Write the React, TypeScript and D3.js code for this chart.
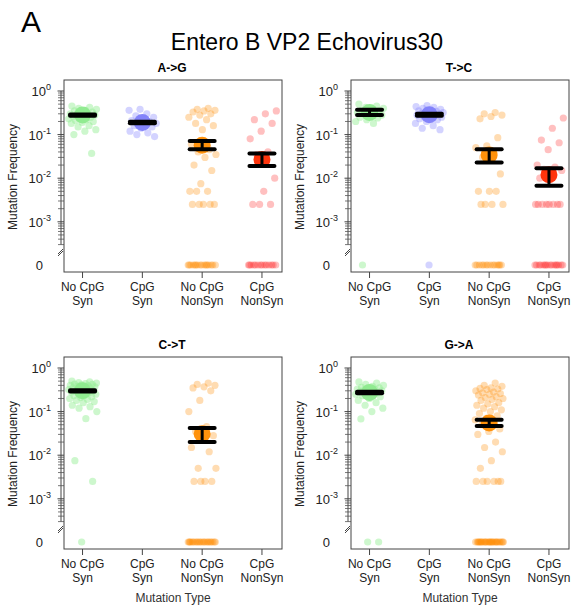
import React from "react";
import * as d3 from "d3";

// ---------- data ----------
const categoryLines = [
  ["No CpG", "Syn"],
  ["CpG", "Syn"],
  ["No CpG", "NonSyn"],
  ["CpG", "NonSyn"],
];
const panelTitles = ["A->G", "T->C", "C->T", "G->A"];
const mainTitle = "Entero B VP2 Echovirus30";
const panelLetter = "A";
const yAxisTitle = "Mutation Frequency";
const xAxisTitle = "Mutation Type";
const majorTicks = [1, 0.1, 0.01, 0.001];
const majorTickExp = ["0", "-1", "-2", "-3"];

const zeros = (n: number) => Array.from({ length: n }, () => 0);

// A->G
const agNoCpGSyn = [0.45, 0.42, 0.4, 0.38, 0.36, 0.35, 0.33, 0.32, 0.3, 0.3, 0.29, 0.28, 0.27, 0.26, 0.25, 0.24, 0.23, 0.22, 0.21, 0.2, 0.19, 0.18, 0.16, 0.15, 0.13, 0.12, 0.1, 0.037];
const agCpGSyn = [0.38, 0.36, 0.3, 0.27, 0.25, 0.23, 0.21, 0.2, 0.19, 0.18, 0.17, 0.16, 0.15, 0.14, 0.12, 0.11, 0.1, 0.09];
const agNoCpGNonSyn = [0.4, 0.38, 0.36, 0.35, 0.33, 0.3, 0.28, 0.25, 0.22, 0.18, 0.16, 0.13, 0.06, 0.045, 0.04, 0.035, 0.03, 0.02, 0.015, 0.0075, 0.005, 0.005, 0.005, 0.0025, 0.0025, 0.0025, 0.0025, 0.0025, ...zeros(16)];
const agCpGNonSyn = [0.35, 0.3, 0.22, 0.18, 0.12, 0.08, 0.04, 0.035, 0.01, 0.005, 0.0025, 0.0025, 0.0025, ...zeros(14)];
const agMean = [0.28, 0.19, 0.057, 0.027];
const agLow = [0.27, 0.183, 0.046, 0.019];
const agHigh = [0.29, 0.197, 0.071, 0.037];

// T->C
const tcNoCpGSyn = [0.5, 0.45, 0.42, 0.4, 0.38, 0.36, 0.35, 0.33, 0.32, 0.3, 0.3, 0.28, 0.27, 0.25, 0.24, 0.22, 0.2, 0.18, 0];
const tcCpGSyn = [0.46, 0.44, 0.42, 0.4, 0.38, 0.36, 0.35, 0.34, 0.33, 0.32, 0.31, 0.3, 0.3, 0.29, 0.28, 0.27, 0.26, 0.25, 0.24, 0.23, 0.22, 0.2, 0.18, 0.16, 0.14, 0.13, 0];
const tcNoCpGNonSyn = [0.32, 0.3, 0.28, 0.26, 0.23, 0.085, 0.055, 0.05, 0.04, 0.03, 0.0125, 0.005, 0.005, 0.005, 0.0025, 0.0025, 0.0025, 0.0025, ...zeros(14)];
const tcCpGNonSyn = [0.24, 0.14, 0.075, 0.065, 0.045, 0.02, 0.018, 0.016, 0.015, 0.012, 0.01, 0.0025, 0.0025, 0.0025, 0.0025, 0.0025, 0.0025, 0.0025, 0.0025, ...zeros(16)];
const tcMean = [0.32, 0.285, 0.034, 0.012];
const tcLow = [0.28, 0.27, 0.023, 0.0067];
const tcHigh = [0.37, 0.3, 0.046, 0.017];

// C->T
const ctNoCpGSyn = [0.5, 0.48, 0.46, 0.45, 0.44, 0.43, 0.42, 0.41, 0.4, 0.39, 0.38, 0.37, 0.36, 0.35, 0.34, 0.33, 0.32, 0.31, 0.3, 0.3, 0.29, 0.28, 0.27, 0.26, 0.25, 0.24, 0.23, 0.22, 0.21, 0.2, 0.19, 0.18, 0.17, 0.16, 0.14, 0.13, 0.12, 0.1, 0.069, 0.0075, 0.0025, 0];
const ctCpGSyn: number[] = [];
const ctNoCpGNonSyn = [0.45, 0.42, 0.4, 0.37, 0.35, 0.3, 0.18, 0.1, 0.045, 0.035, 0.028, 0.025, 0.015, 0.012, 0.005, 0.005, 0.0025, 0.0025, 0.0025, 0.0025, ...zeros(22)];
const ctCpGNonSyn: number[] = [];
const ctMean = [0.3, NaN, 0.031, NaN];
const ctLow = [0.29, NaN, 0.02, NaN];
const ctHigh = [0.31, NaN, 0.042, NaN];

// G->A
const gaNoCpGSyn = [0.48, 0.45, 0.42, 0.4, 0.38, 0.36, 0.35, 0.34, 0.33, 0.32, 0.31, 0.3, 0.29, 0.28, 0.27, 0.26, 0.25, 0.24, 0.23, 0.22, 0.2, 0.18, 0.16, 0.14, 0.12, 0.1, 0.068, 0, 0];
const gaCpGSyn: number[] = [];
const gaNoCpGNonSyn = [0.45, 0.4, 0.38, 0.35, 0.34, 0.33, 0.32, 0.3, 0.28, 0.27, 0.26, 0.25, 0.24, 0.22, 0.21, 0.2, 0.19, 0.18, 0.16, 0.15, 0.14, 0.13, 0.12, 0.11, 0.1, 0.09, 0.08, 0.07, 0.065, 0.06, 0.05, 0.04, 0.035, 0.03, 0.02, 0.015, 0.012, 0.0075, 0.005, 0.0025, 0.0025, 0.0025, 0.0025, 0.0025, 0.0025, ...zeros(28)];
const gaCpGNonSyn: number[] = [];
const gaMean = [0.275, NaN, 0.055, NaN];
const gaLow = [0.265, NaN, 0.047, NaN];
const gaHigh = [0.285, NaN, 0.065, NaN];

// ---------- styles ----------
const pointColors = ["#90EE90", "#8080FF", "#FF8C00", "#FF3030"];
const meanColors = ["#8EEA8E", "#7E7EFA", "#FF8C00", "#FF2A00"];
const pointOpacity = [0.45, 0.35, 0.3, 0.3];
const FONT = "'Liberation Sans', Arial, Helvetica, sans-serif";

const BOX_W = 218;
const BOX_H = 192;
const ZERO_Y = 185;
const BREAK_Y = 171;

const x = d3.scaleLinear().domain([0.69, 4.335]).range([0, BOX_W]);
const y = d3.scaleLog().domain([1e-3, 1]).range([141.8, 11]);
const yv = (v: number) => (v === 0 ? ZERO_Y : y(v));

const minorTicks: number[] = [];
for (let e = -4; e <= -1; e++) {
  for (let k = 2; k <= 9; k++) {
    const v = k * Math.pow(10, e);
    if (v >= 3e-4) minorTicks.push(v);
  }
}

const jitter = (i: number, g: number) => (((i * 0.61803398875 + g * 0.29 + 0.13) % 1) - 0.5) * 0.48;

type PanelProps = {
  ox: number;
  oy: number;
  title: string;
  groups: number[][];
  mean: number[];
  low: number[];
  high: number[];
  showXTitle: boolean;
};

function Panel({ ox, oy, title, groups, mean, low, high, showXTitle }: PanelProps) {
  const spineX = -3;
  return (
    <g transform={`translate(${ox},${oy})`} fontFamily={FONT}>
      <text x={BOX_W / 2 - 1} y={-8} textAnchor="middle" fontWeight="bold" fontSize={12}>
        {title}
      </text>
      {/* y axis */}
      <line x1={spineX} x2={spineX} y1={y(1)} y2={y(3e-4)} stroke="#444" strokeWidth={1} />
      {majorTicks.map((t) => (
        <line key={"M" + t} x1={-6.5} x2={0} y1={y(t)} y2={y(t)} stroke="#444" strokeWidth={1} />
      ))}
      {minorTicks.map((t) => (
        <line key={"m" + t} x1={-6} x2={0} y1={y(t)} y2={y(t)} stroke="#555" strokeWidth={0.8} />
      ))}
      <line x1={-6} x2={-1} y1={BREAK_Y + 3} y2={BREAK_Y - 2} stroke="#444" strokeWidth={1} />
      <line x1={-6} x2={-1} y1={BREAK_Y + 5} y2={BREAK_Y} stroke="#444" strokeWidth={1} />
      {majorTicks.map((t, i) => (
        <text key={"L" + t} x={-13} y={y(t) + 5} textAnchor="end" fontSize={13} fill="#222">
          10
          <tspan fontSize={9} dy={-6}>
            {majorTickExp[i]}
          </tspan>
        </text>
      ))}
      <text x={-21} y={ZERO_Y + 5} textAnchor="end" fontSize={13} fill="#222">
        0
      </text>
      <text transform={`translate(-47,${BOX_H / 2 + 1}) rotate(-90)`} textAnchor="middle" fontSize={12} fill="#222">
        {yAxisTitle}
      </text>
      {/* x axis */}
      {categoryLines.map((c, i) => (
        <g key={"x" + i}>
          <line x1={x(i + 1)} x2={x(i + 1)} y1={BOX_H} y2={BOX_H + 6} stroke="#444" strokeWidth={1} />
          <text x={x(i + 1)} y={BOX_H + 18.5} textAnchor="middle" fontSize={12} fill="#222">
            {c[0]}
          </text>
          <text x={x(i + 1)} y={BOX_H + 32.5} textAnchor="middle" fontSize={12} fill="#222">
            {c[1]}
          </text>
        </g>
      ))}
      {showXTitle && (
        <text x={BOX_W / 2} y={245} textAnchor="middle" fontSize={12} fill="#333">
          {xAxisTitle}
        </text>
      )}
      {/* points */}
      {groups.map((vals, g) =>
        vals.map((v, i) => (
          <circle
            key={`p${g}-${i}`}
            cx={x(g + 1 + jitter(i, g))}
            cy={yv(v)}
            r={3.6}
            fill={pointColors[g]}
            fillOpacity={pointOpacity[g]}
          />
        ))
      )}
      {/* means & error bars */}
      {mean.map((m, g) =>
        isNaN(m) ? null : (
          <g key={"e" + g}>
            <circle cx={x(g + 1)} cy={y(m)} r={8.5} fill={meanColors[g]} fillOpacity={0.95} />
            <line x1={x(g + 1)} x2={x(g + 1)} y1={y(low[g])} y2={y(high[g])} stroke="#000" strokeWidth={3} />
            <line x1={x(g + 1) - 12.5} x2={x(g + 1) + 12.5} y1={y(low[g])} y2={y(low[g])} stroke="#000" strokeWidth={4} strokeLinecap="round" />
            <line x1={x(g + 1) - 12.5} x2={x(g + 1) + 12.5} y1={y(high[g])} y2={y(high[g])} stroke="#000" strokeWidth={4} strokeLinecap="round" />
          </g>
        )
      )}
      <rect x={0} y={0} width={BOX_W} height={BOX_H} fill="none" stroke="#444" strokeWidth={1} />
    </g>
  );
}

export default function App() {
  const panels = [
    { ox: 64, oy: 80, groups: [agNoCpGSyn, agCpGSyn, agNoCpGNonSyn, agCpGNonSyn], mean: agMean, low: agLow, high: agHigh },
    { ox: 351, oy: 80, groups: [tcNoCpGSyn, tcCpGSyn, tcNoCpGNonSyn, tcCpGNonSyn], mean: tcMean, low: tcLow, high: tcHigh },
    { ox: 64, oy: 357, groups: [ctNoCpGSyn, ctCpGSyn, ctNoCpGNonSyn, ctCpGNonSyn], mean: ctMean, low: ctLow, high: ctHigh },
    { ox: 351, oy: 357, groups: [gaNoCpGSyn, gaCpGSyn, gaNoCpGNonSyn, gaCpGNonSyn], mean: gaMean, low: gaLow, high: gaHigh },
  ];
  return (
    <svg width={571} height={612} style={{ position: "absolute", left: 0, top: 0, background: "#fff" }}>
      <rect width={571} height={612} fill="#fff" />
      <text x={21} y={32} fontSize={30} fontFamily={FONT}>
        {panelLetter}
      </text>
      <text x={307} y={50} fontSize={23} textAnchor="middle" fontFamily={FONT}>
        {mainTitle}
      </text>
      {panels.map((p, i) => (
        <Panel key={i} {...p} title={panelTitles[i]} showXTitle={i >= 2} />
      ))}
    </svg>
  );
}
